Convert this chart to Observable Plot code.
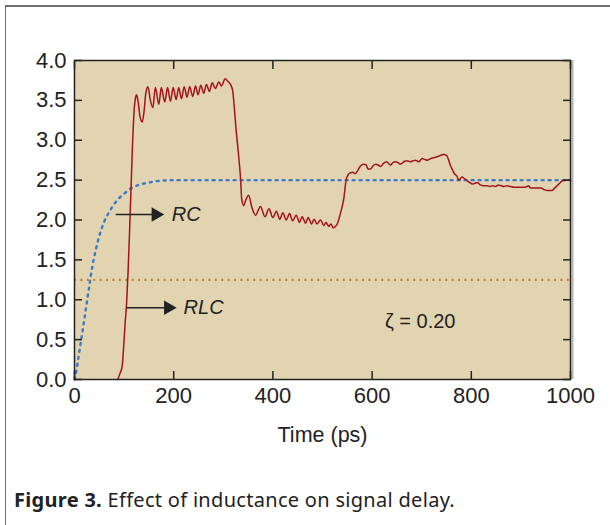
<!DOCTYPE html>
<html><head><meta charset="utf-8">
<script src="https://cdn.jsdelivr.net/npm/d3@7"></script>
<script src="https://cdn.jsdelivr.net/npm/@observablehq/plot@0.6"></script>
<style>
body{margin:0;background:#fff;width:610px;height:525px;overflow:hidden;position:relative;font-family:"Liberation Sans",Arial,sans-serif}
#frame{position:absolute;left:5px;top:5px;width:620px;height:540px;border-left:1.5px solid #6e6e6e;border-top:2px solid #6e6e6e}
#chart{position:absolute;left:0;top:0}
#caption{position:absolute;left:14px;top:489px;font-family:"Noto Sans";font-size:20px;letter-spacing:0.3px;line-height:22px;color:#222;white-space:nowrap}
</style></head><body>
<div id="frame"></div><div id="chart"></div>
<div id="caption"><b>Figure 3.</b> Effect of inductance on signal delay.</div>
<script>
// Time axis (ps) and voltage axis ticks
const xTicks = [0, 200, 400, 600, 800, 1000];
const yTicks = [0, 0.5, 1.0, 1.5, 2.0, 2.5, 3.0, 3.5, 4.0];
const xDomain = [0, 1000];
const yDomain = [0, 4];

// RLC response
const rlcTime = [87,92,96,99,102,105,108,111,114,117,120,123,125,128,132,136.5,140,144,148,153,158,163,170,175,182,187.5,193.5,199,205,210,215.7,221,227,232,238.5,244,249,254.6,260.6,266,272,277.5,284,291,296,304,309,314.5,319,322,326,331,335,337,341,346,351,358,365,375,384,392,400,407,414,420,427,433.5,440,447,453.6,459,466,471,478,483,489,496,502.6,507,512.7,517,521.5,526,529.6,536,543,547.6,552,556,561,566,571,577,583,588,592,597,602,607,612,617,623,629,637,642,647,652,657,662,667,672,677,682,687,694,701,706,711,718,724,734,744,750,754,758,762,766,771,775,781,786,792,797,802,807,812,818,825,832,838,843,849,855,860,866,872,879,886,893,900,906,912,916,919,925,933,940,947,953,958,963,968,973,978,983,990,997,1000];
const rlcVolt = [0,0.08,0.16,0.4,0.7,0.95,1.35,1.85,2.4,2.95,3.35,3.53,3.57,3.5,3.3,3.23,3.35,3.6,3.67,3.5,3.41,3.66,3.45,3.66,3.48,3.66,3.49,3.66,3.51,3.66,3.52,3.67,3.54,3.67,3.55,3.68,3.57,3.69,3.59,3.70,3.61,3.72,3.65,3.73,3.68,3.77,3.74,3.70,3.62,3.42,3.12,2.8,2.5,2.27,2.18,2.26,2.31,2.15,2.06,2.17,2.04,2.14,2.03,2.11,2.01,2.09,2.00,2.08,1.99,2.06,1.97,2.04,1.96,2.03,1.95,2.01,1.95,2.00,1.93,1.97,1.92,1.95,1.90,1.92,1.95,2.08,2.27,2.50,2.57,2.59,2.60,2.58,2.62,2.68,2.70,2.69,2.64,2.64,2.68,2.70,2.69,2.67,2.71,2.73,2.69,2.72,2.73,2.72,2.70,2.72,2.74,2.74,2.73,2.74,2.75,2.73,2.77,2.76,2.75,2.77,2.78,2.80,2.82,2.81,2.76,2.68,2.63,2.58,2.55,2.50,2.54,2.52,2.49,2.47,2.45,2.46,2.47,2.44,2.43,2.43,2.42,2.43,2.42,2.44,2.43,2.42,2.43,2.42,2.41,2.41,2.41,2.41,2.42,2.43,2.40,2.40,2.40,2.40,2.38,2.37,2.37,2.37,2.40,2.43,2.46,2.49,2.50,2.50,2.50];

// RC response
const rcTime = [0,4,8,13,18,24,30,36,42,50,60,72,85,100,115,130,150,170,200,300,400,500,600,700,800,900,1000];
const rcVolt = [0,0.12,0.28,0.48,0.68,0.93,1.18,1.42,1.6,1.8,1.98,2.12,2.24,2.33,2.4,2.44,2.47,2.49,2.5,2.5,2.5,2.5,2.5,2.5,2.5,2.5,2.5];

// 50% threshold level
const threshold = [1.25];

// Annotations
const labelText = ["RC", "RLC"];
const labelTime = [196, 220];
const labelVolt = [2.07, 0.90];
const arrowStart = [83, 105];
const arrowEnd = [160, 185];
const arrowHead = [164, 189];
const zetaText = ["ζ = 0.20"];
const zetaTime = [697];
const zetaVolt = [0.73];
const xLabel = ["Time (ps)"];

const rlc = rlcTime.map((t, i) => ({t, v: rlcVolt[i]}));
const rc = rcTime.map((t, i) => ({t, v: rcVolt[i]}));
const labels = labelText.map((s, i) => ({s, t: labelTime[i], v: labelVolt[i], a: arrowStart[i], b: arrowEnd[i], h: arrowHead[i]}));
const zeta = zetaText.map((s, i) => ({s, t: zetaTime[i], v: zetaVolt[i]}));

const ink = "#222";
const chart = Plot.plot({
  width: 610, height: 460,
  marginLeft: 74, marginRight: 40, marginTop: 60, marginBottom: 81,
  style: {fontFamily: "Liberation Sans, Arial, sans-serif", color: ink, background: "transparent"},
  x: {domain: xDomain},
  y: {domain: yDomain},
  marks: [
    Plot.frame({fill: "#e2d4b0"}),
    Plot.ruleY(threshold, {stroke: "#b9853c", strokeWidth: 2.2, strokeDasharray: "2,4.4"}),
    Plot.line(rc, {x: "t", y: "v", stroke: "#3b7ac6", strokeWidth: 2.4, strokeDasharray: "2,5", curve: "monotone-x"}),
    Plot.line(rlc, {x: "t", y: "v", stroke: "#a3121f", strokeWidth: 1.5, curve: "monotone-x"}),
    Plot.link(labels, {x1: "a", x2: "b", y1: "v", y2: "v", stroke: ink, strokeWidth: 1.5}),
    Plot.dot(labels, {x: "h", y: "v", symbol: "triangle", rotate: 90, r: 5.4, fill: ink, stroke: "none"}),
    Plot.text(labels, {x: "t", y: "v", text: "s", textAnchor: "start", fontSize: 20, fontStyle: "italic", fill: ink}),
    Plot.text(zeta, {x: "t", y: "v", text: "s", fontSize: 20, fill: ink}),
    Plot.text(xLabel, {frameAnchor: "bottom", dy: 62, fontSize: 21.5, fill: ink}),
    Plot.ruleX([xDomain[1]], {stroke: "#b5b5b5", strokeWidth: 2, dx: 2}),
    Plot.frame({stroke: ink, strokeWidth: 1.5}),
    Plot.axisX(xTicks, {anchor: "bottom", tickSize: 0, tickPadding: 8, fontSize: 22, label: null, tickFormat: d => String(d)}),
    Plot.axisX(xTicks, {anchor: "bottom", tickSize: -8, strokeWidth: 1.5, label: null, tickFormat: () => ""}),
    Plot.axisX(xTicks, {anchor: "top", tickSize: -8, strokeWidth: 1.5, label: null, tickFormat: () => ""}),
    Plot.axisY(yTicks, {anchor: "left", tickSize: 0, tickPadding: 8, fontSize: 22, label: null, tickFormat: d3.format(".1f")}),
    Plot.axisY(yTicks, {anchor: "left", tickSize: -8, strokeWidth: 1.5, label: null, tickFormat: () => ""}),
    Plot.axisY(yTicks, {anchor: "right", tickSize: -8, strokeWidth: 1.5, label: null, tickFormat: () => ""})
  ]
});
document.getElementById("chart").appendChild(chart);
</script>
</body></html>
